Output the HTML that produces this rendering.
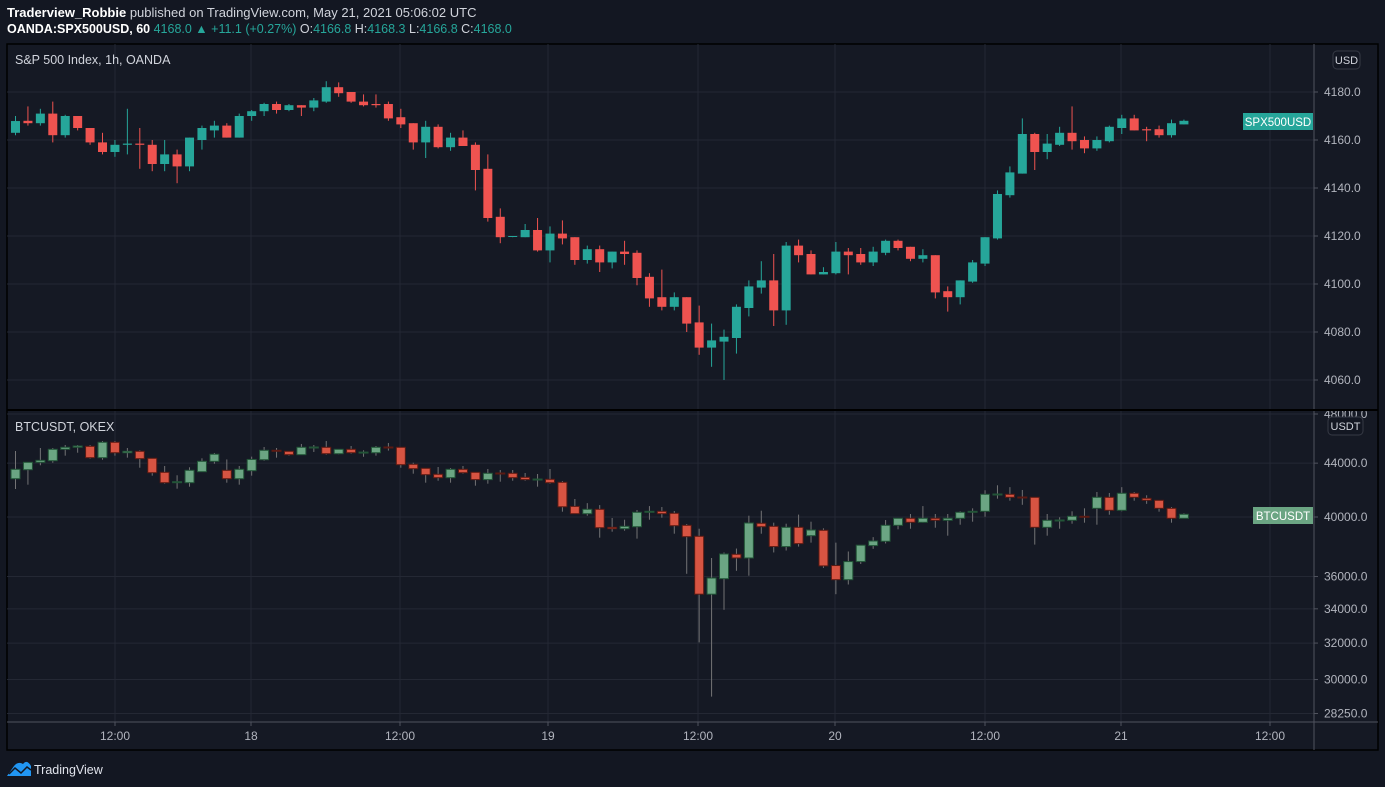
<!DOCTYPE html>
<html><head><meta charset="utf-8">
<style>
html,body{margin:0;padding:0;background:#131722;width:1385px;height:787px;overflow:hidden;font-family:"Liberation Sans",sans-serif;}
#hdr1{position:absolute;left:7px;top:5px;font-size:13px;color:#d1d4dc;}
#hdr2{position:absolute;left:7px;top:22px;font-size:12.5px;color:#d1d4dc;}
.g{color:#26a69a}
svg{position:absolute;left:0;top:0}
</style></head><body>
<div id="hdr1"><b style="color:#fff">Traderview_Robbie</b> published on TradingView.com, May 21, 2021 05:06:02 UTC</div>
<div id="hdr2"><b style="color:#fff">OANDA:SPX500USD, 60</b> <span class="g">4168.0 ▲ +11.1 (+0.27%)</span> O:<span class="g">4166.8</span> H:<span class="g">4168.3</span> L:<span class="g">4166.8</span> C:<span class="g">4168.0</span></div>
<svg id="c" width="1385" height="787"></svg>
<script>
const spxO=[4163,4168,4167,4171,4162,4170,4165,4159,4155,4158,4158.5,4158,4150,4154,4149,4160,4164,4166,4161,4170,4172,4175,4172.5,4174.5,4173.5,4176,4182,4180,4176,4175,4175,4169.5,4167,4159,4165.5,4157,4161,4158,4148,4128,4120,4119.5,4122.5,4114,4121,4119.5,4110,4114.5,4109,4113.5,4113,4103,4094.5,4090.5,4094.5,4084,4073.5,4076,4077.5,4090,4098.5,4101.5,4089,4116,4112.5,4104,4104.5,4113.5,4112.5,4109,4113,4118,4115.5,4110.5,4112,4097,4094.5,4101,4108.5,4119,4137,4146,4162.5,4155,4158,4163,4160,4156.5,4159.5,4165,4169,4164.5,4164.5,4162,4166.5];
const spxH=[4170,4174,4173,4176,4170.5,4170,4165,4163,4160,4173,4165,4160,4160,4156,4161,4166,4168,4167,4171,4172.5,4175.5,4176,4175,4174.5,4177.5,4184.5,4184,4180,4179,4179,4176,4173,4167,4168,4166.5,4163,4164,4159,4154,4131.5,4120,4125,4127.5,4124,4126.5,4119.5,4116,4116,4113.5,4118,4114,4104.5,4106,4096.5,4094.5,4091,4083.5,4081,4091.5,4101.5,4109.5,4112.5,4117.5,4118.5,4114,4107,4117.5,4115,4115,4115.5,4118.5,4118.5,4115.5,4114.5,4112,4099,4101.5,4110,4119.5,4139,4149,4169,4163,4162.5,4165.5,4174,4161.5,4161.5,4166,4170.5,4170.5,4165.5,4166,4168.5,4168.5];
const spxL=[4162,4166,4166,4159,4161,4164,4158,4154,4153,4154,4148,4147,4147,4142,4147,4156,4161,4161,4161,4168,4170,4171,4172,4170,4172,4175.5,4178,4175.5,4174,4173.5,4168,4165,4156,4152.5,4156.5,4155.5,4157.5,4139,4126,4117,4119.5,4119.5,4113.5,4109,4116.5,4108,4108.5,4105,4106.5,4108,4099.5,4090.5,4089,4089,4080,4070.5,4065.5,4060,4071,4086.5,4096,4082.5,4083,4109,4104,4104,4104,4104,4108,4107.5,4112,4114,4109.5,4109,4094,4088.5,4091.5,4100.5,4107.5,4118.5,4136,4146,4147.5,4152,4157.5,4156,4154.5,4155.5,4159,4162.5,4164,4159.5,4161,4161,4166.5];
const spxC=[4167.9,4167,4171,4162,4170,4165,4159,4155,4158,4158.5,4158,4150,4154,4149,4161,4165,4166,4161,4170,4172,4175,4172.5,4174.5,4173.5,4176.5,4182,4179.5,4176,4174.5,4174.5,4169,4166.5,4159,4165.5,4157,4161,4157.5,4147.5,4127.5,4119.5,4120,4122.5,4114,4121,4119,4110,4114.5,4109,4113.5,4112.5,4102.5,4094,4090.5,4094.5,4083.5,4073.5,4076.5,4078,4090.5,4099,4101.5,4089,4116,4112,4104,4105,4113.5,4112,4109,4113.5,4118,4115,4110.5,4112,4096.5,4094.5,4101.5,4109,4119.5,4137.5,4146.5,4162.5,4155,4158.5,4163,4159.5,4156.5,4160,4165.5,4169,4164,4164,4162,4167,4168];
const btcO=[42804,43492,44065,44190,45092,45252,45330,44428,45656,44820,44932,44380,43293,42505,42505,43339,44143,43446,42804,43416,44268,45013,44932,44665,45252,45252,44743,45092,44820,44820,45276,45252,43911,43600,43141,42883,43523,43293,42736,43240,43217,42911,42736,42759,42535,40758,40235,40548,39276,39180,39318,40334,40405,40263,39416,38658,34892,35862,37445,37202,39557,39346,37960,39276,38699,39070,36707,35800,36965,38026,38318,39416,39908,39627,39908,39767,39908,40334,40405,41611,41640,41441,41419,39276,39740,39767,40050,40619,41419,40476,41715,41346,41200,40619,39908];
const btcH=[44956,44065,45196,45196,45437,45437,45437,45760,45760,45196,45013,44380,43779,43066,43677,44380,44800,44290,43779,44510,45276,45196,44932,45520,45437,45760,45100,45356,45013,45356,45600,45252,44033,43600,43700,43623,43779,43293,43546,43469,43469,43240,43164,43546,42631,41296,40994,40852,39929,39810,40499,40781,40713,40426,39508,39180,37202,37567,37828,40092,40448,39600,39528,40170,39670,39207,38225,37632,38053,38600,39789,39908,40213,40781,40213,40213,40405,40619,41937,42310,42170,41960,41419,40213,39980,40405,40619,41810,41737,42170,41810,41567,41200,40713,40263];
const btcL=[42034,42355,43834,44033,44586,44820,44350,44268,44586,44428,43646,43036,42430,42056,42206,43339,43955,42505,42355,43036,44190,44428,44586,44665,44880,44665,44700,44743,44500,44586,44990,43646,43187,42505,42653,42505,43187,42280,42430,42580,42653,42653,42206,42430,40378,40235,40092,38563,38973,39042,38495,39810,39950,38835,36175,32040,29106,33941,36367,36053,38835,37567,37697,37960,38225,36555,34892,35495,36810,37808,38170,39138,39180,39600,39249,38699,39458,39670,40021,41318,41171,40873,38093,38699,39180,39528,39600,39458,40163,40405,41171,40943,40378,39600,39908];
const btcC=[43523,44065,44220,45092,45252,45356,44428,45656,44820,44932,44350,43262,42505,42580,43446,44143,44700,42804,43523,44290,45013,44932,44665,45252,45276,44743,45092,44820,44870,45252,45252,43880,43570,43111,42883,43523,43262,42736,43217,43187,42883,42736,42781,42505,40730,40235,40548,39249,39180,39346,40334,40405,40235,39388,38631,34892,35906,37465,37202,39578,39318,37960,39276,38158,39090,36683,35800,36965,38053,38337,39416,39908,39627,39908,39767,39908,40334,40405,41640,41662,41419,41390,39276,39767,39789,40050,40000,41419,40476,41715,41419,41200,40619,39908,40192];
const spxTicks=[4060,4080,4100,4120,4140,4160,4180];
const btcTicks=[28250,30000,32000,34000,36000,40000,44000,48000];
const timeLabels=["12:00","18","12:00","19","12:00","20","12:00","21","12:00"];
const timeX=[115,251,400,548,698,835,985,1121,1270];

const NS='http://www.w3.org/2000/svg',svg=document.getElementById('c');
function mk(t,a,p){const e=document.createElementNS(NS,t);for(const k in a)e.setAttribute(k,a[k]);(p||svg).appendChild(e);return e;}
const X0=7,XR=1314,W=1378;
const xs=i=>15.5+i*12.43;
const ySpx=p=>92+(4180-p)*2.4;
const yBtc=p=>517-565*Math.log(p/40000);
// frame
let f=mk('rect',{x:X0,y:44,width:W-X0,height:706,fill:'#151924',stroke:'#000',"stroke-width":1.5});

// vertical grid
timeX.forEach((x,i)=>{let l=mk('line',{x1:x,x2:x,y1:44,y2:722,stroke:'#242834'});

let t=mk('text',{x:x,y:740,fill:'#b2b5be','font-size':12,'text-anchor':'middle','font-family':'Liberation Sans,sans-serif'});t.textContent=timeLabels[i];

mk('line',{x1:x,x2:x,y1:722,y2:726,stroke:'#50535e'});});
function hgrid(ticks,yf,dec){ticks.forEach(v=>{const y=yf(v);
let l=mk('line',{x1:X0,x2:XR,y1:y,y2:y,stroke:'#242834'});
mk('line',{x1:XR,x2:XR+4,y1:y,y2:y,stroke:'#50535e'});
let t=mk('text',{x:XR+10,y:y+4,fill:'#b2b5be','font-size':12,'font-family':'Liberation Sans,sans-serif'});t.textContent=v.toFixed(1);
});}
hgrid(spxTicks,ySpx);hgrid(btcTicks,yBtc);
// separators
mk('line',{x1:XR,x2:XR,y1:44,y2:750,stroke:'#50535e'});
mk('line',{x1:X0,x2:W,y1:722,y2:722,stroke:'#50535e'});
let sep=mk('rect',{x:X0,y:409,width:W-X0,height:2,fill:'#000'});
function candles(O,H,L,C,yf,up,dn,upB,dnB,wickUp,wickDn,name){
 for(let i=0;i<O.length;i++){const x=xs(i),g=C[i]>=O[i];
  let w=mk('line',{x1:x,x2:x,y1:yf(H[i]),y2:yf(L[i]),stroke:g?wickUp:wickDn,'stroke-width':1});
  
  const t=yf(Math.max(O[i],C[i])),b=yf(Math.min(O[i],C[i]));
  let r=mk('rect',{x:x-4.5,y:t,width:9,height:Math.max(1,b-t),fill:g?up:dn,stroke:upB?(g?upB:dnB):'none','stroke-width':upB?1:0});
  }}
candles(spxO,spxH,spxL,spxC,ySpx,'#26a69a','#ef5350',null,null,'#26a69a','#ef5350','spx');
candles(btcO,btcH,btcL,btcC,yBtc,'#6ba583','#d75442','#225437','#5b1a13','#737375','#737375','btc');
// pane titles
function txt(x,y,s,fs,fill,name,anchor){let t=mk('text',{x:x,y:y,fill:fill,'font-size':fs,'font-family':'Liberation Sans,sans-serif','text-anchor':anchor||'start'});t.textContent=s;return t;}
txt(15,64,'S&P 500 Index, 1h, OANDA',12.5,'#d1d4dc','spx-pane-title');
txt(15,431,'BTCUSDT, OKEX',12.5,'#d1d4dc','btc-pane-title');
// currency badges
let b1=mk('rect',{x:1333,y:51,width:27,height:18,rx:4,fill:'#131722',stroke:'#363a45'});
txt(1346.5,64,'USD',11,'#d1d4dc','usd-badge-text','middle');
let b2=mk('rect',{x:1328,y:417,width:35,height:18,rx:4,fill:'#131722',stroke:'#363a45'});
txt(1345.5,430,'USDT',11,'#d1d4dc','usdt-badge-text','middle');
// symbol labels
let s1=mk('rect',{x:1243,y:113,width:70,height:17,fill:'#26a69a'});
txt(1278,126,'SPX500USD',11.5,'#fff','spx-symbol-text','middle');
let s2=mk('rect',{x:1253,y:507,width:60,height:17,fill:'#6ba583'});
txt(1283,520,'BTCUSDT',11.5,'#fff','btc-symbol-text','middle');
// logo
let lg=mk('path',{d:'M7 776 L14 766 Q18 761 23 764 Q27 759 31 766 L31 776 Z',fill:'#2196f3'});
mk('polyline',{points:'9,774 15,768 21,773 27,767 31,770',fill:'none',stroke:'#131722','stroke-width':1.5});
txt(34,774,'TradingView',12.5,'#e0e3eb','tradingview-wordmark');
</script>
</body></html>
